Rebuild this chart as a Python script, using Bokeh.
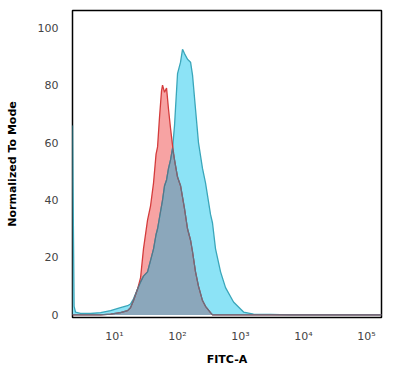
from bokeh.plotting import figure
from bokeh.models import FixedTicker, Range1d
from bokeh.embed import file_html
from bokeh.resources import INLINE

# FITC-A intensity (log scale) and histogram heights (% of mode)
fitc = [2.15, 2.28, 2.40, 2.88, 4.16, 6.0, 8.65, 12.4, 16.1, 17.9, 20.0, 23.2,
        25.9, 28.8, 33.4, 37.3, 41.6, 45.6, 48.2, 51.8, 55.7, 57.8, 62.2, 66.9,
        71.9, 77.4, 83.3, 89.6, 92.9, 100, 111.6, 120, 129, 144, 161, 173, 193,
        215, 249, 278, 334, 359, 401, 482, 578, 774, 1117, 1607, 2993, 6220, 173000]
stained = [66, 3, 1, 0.5, 0.5, 0.8, 1.5, 2.5, 3.2, 3.8, 5.6, 9,
           11.5, 13.5, 15, 19, 23, 28, 30, 34, 38, 40, 45, 47,
           51, 54, 58, 66, 72, 84, 88, 92.5, 91, 89, 88, 83.5, 71.6,
           60, 51, 46, 35, 32, 23, 15, 9.5, 4.5, 1, 0.3, 0.2, 0, 0]
isotype = [0, 0, 0, 0, 0, 0, 0.3, 0.8, 1.5, 2.5, 5, 9,
           13, 23, 33, 38, 46, 56, 58.5, 69, 78, 80, 77.5, 79,
           71.6, 65, 59, 54, 52, 48, 45, 41, 37, 30, 26, 22, 15,
           10, 5, 3, 0.8, 0, 0, 0, 0, 0, 0, 0, 0, 0, 0]
y_ticks = [0, 20, 40, 60, 80, 100]
x_ticks = [10, 100, 1000, 10000, 100000]
x_tick_labels = ["10\u00b9", "10\u00b2", "10\u00b3", "10\u2074", "10\u2075"]

overlap = [min(a, b) for a, b in zip(stained, isotype)]

p = figure(width=392, height=368, x_axis_type="log",
           x_range=Range1d(2.15, 173000), y_range=Range1d(-0.9, 106),
           output_backend="svg", toolbar_location=None,
           min_border_left=72, min_border_top=10, min_border_right=11,
           min_border_bottom=50)

p.varea(x=fitc, y1=0, y2=stained, fill_color="#8ce3f6")
p.varea(x=fitc, y1=0, y2=isotype, fill_color="#f7a3a3")
p.varea(x=fitc, y1=0, y2=overlap, fill_color="#8ba7bb")
p.line(x=fitc, y=stained, line_color="#3aa6ba", line_width=1.3)
p.line(x=fitc, y=isotype, line_color="#d43b3b", line_width=1.3)
p.line(x=fitc, y=overlap, line_color="#5d7385", line_width=1.2)

p.xgrid.visible = False
p.ygrid.visible = False
p.outline_line_color = "black"
p.outline_line_width = 1.5
p.background_fill_color = "white"
p.border_fill_color = "white"

for ax in (p.xaxis[0], p.yaxis[0]):
    ax.axis_line_color = None
    ax.major_tick_line_color = None
    ax.minor_tick_line_color = None
    ax.major_tick_in = 0
    ax.major_tick_out = 0
    ax.minor_tick_in = 0
    ax.minor_tick_out = 0
    ax.major_label_text_font = "DejaVu Sans"
    ax.major_label_text_font_size = "11px"
    ax.major_label_text_color = "#444444"
    ax.axis_label_text_font = "DejaVu Sans"
    ax.axis_label_text_font_style = "bold"
    ax.axis_label_text_font_size = "11px"
    ax.axis_label_text_color = "black"

p.xaxis.ticker = FixedTicker(ticks=x_ticks)
p.xaxis.major_label_overrides = dict(zip(x_ticks, x_tick_labels))
p.xaxis.major_label_standoff = 12
p.xaxis.axis_label = "FITC-A"
p.xaxis.axis_label_standoff = 7

p.yaxis.ticker = FixedTicker(ticks=y_ticks)
p.yaxis.major_label_standoff = 14
p.yaxis.axis_label = "Normalized To Mode"
p.yaxis.axis_label_standoff = 16

open("out.html", "w").write(file_html(p, INLINE))
